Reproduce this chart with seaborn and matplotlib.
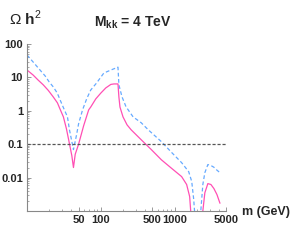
import numpy as np
import pandas as pd
import seaborn as sns
import matplotlib
matplotlib.use('Agg')
import matplotlib.pyplot as plt
from matplotlib.ticker import FixedLocator, NullFormatter

sns.set_style('ticks')
plt.rcParams['font.family'] = ['Liberation Sans Narrow', 'Liberation Sans', 'DejaVu Sans']
plt.rcParams['mathtext.fontset'] = 'custom'
plt.rcParams['mathtext.rm'] = 'Liberation Sans'
plt.rcParams['mathtext.bf'] = 'Liberation Sans:bold'

# solid pink curve
m_pink = [10, 12.1, 14.1, 16.6, 19.4, 22.7, 25.8, 28.3, 31.1, 34.2, 37.7, 40.5, 42.6,
          45, 50, 58.5, 68.5, 73, 85.5, 100, 117, 137, 151, 171,
          176, 182, 200, 227, 258, 353, 484, 664, 910, 1247, 1459, 1603, 1656, 1700,
          2380, 2420, 2576, 2830, 3112, 3416, 3758, 4130]
omega_pink = [16.7, 11.8, 8.4, 6.0, 4.1, 2.6, 1.74, 1.07, 0.66, 0.29, 0.1, 0.045, 0.02,
              0.05, 0.1, 0.356, 1.07, 1.3, 2.28, 3.4, 4.87, 6.2, 6.4, 6.4,
              2.6, 1.3, 0.66, 0.38, 0.27, 0.136, 0.069, 0.034, 0.019, 0.0107, 0.0062, 0.0027, 0.001, 0.0003,
              0.0003, 0.001, 0.0035, 0.0066, 0.0062, 0.0047, 0.0031, 0.0017]

# dashed blue curve
m_blue = [10, 12.1, 15, 17.6, 20, 22.7, 25.7, 30, 35.3, 37.6, 42.6, 46.9, 50, 56.6,
          64.3, 73, 88, 110, 137, 171,
          176, 194, 220, 274, 353, 440, 664, 910, 1247, 1556, 1711, 1820, 1880, 1920,
          2230, 2270, 2420, 2576, 2830, 3112, 3416, 3758, 4130]
omega_blue = [47, 29, 16.7, 11.1, 7.3, 5.2, 3.4, 1.5, 0.66, 0.27, 0.069, 0.19, 0.41, 1.07,
              2.28, 4.2, 6.9, 13.6, 16.7, 20.4,
              6.0, 2.62, 1.32, 0.66, 0.44, 0.27, 0.119, 0.057, 0.028, 0.015, 0.0076, 0.0022, 0.0008, 0.0003,
              0.0003, 0.001, 0.0062, 0.014, 0.0245, 0.023, 0.0204, 0.0167, 0.014]

x_ticks = [50, 100, 500, 1000, 5000]
y_ticks = [100, 10, 1, 0.1, 0.01]
y_tick_labels = ['100', '10', '1', '0.1', '0.01']
omega_ref = 0.1

pink = '#ff4fb4'
blue = '#66aaff'

fig = plt.figure(figsize=(2.94, 2.45), dpi=100)
ax = fig.add_axes([0.092, 0.139, 0.677, 0.681])

pink_df = pd.DataFrame({'m': m_pink, 'omega': omega_pink})
blue_df = pd.DataFrame({'m': m_blue, 'omega': omega_blue})

sns.lineplot(data=blue_df, x='m', y='omega', ax=ax, sort=False, estimator=None,
             color=blue, lw=0.9, linestyle=(0, (3, 2)))
sns.lineplot(data=pink_df, x='m', y='omega', ax=ax, sort=False, estimator=None,
             color=pink, lw=0.9)
ax.axhline(omega_ref, color='#555555', lw=0.9, ls=(0, (2.5, 1.5)))

ax.set(xscale='log', yscale='log', xlim=(10, 5000), ylim=(0.001, 100), xlabel='', ylabel='')
sns.despine(ax=ax)
for s in ['left', 'bottom']:
    ax.spines[s].set_color('#888888')
    ax.spines[s].set_linewidth(0.8)

ax.xaxis.set_major_locator(FixedLocator(x_ticks))
ax.set_xticklabels([str(t) for t in x_ticks])
ax.yaxis.set_major_locator(FixedLocator(y_ticks))
ax.set_yticklabels(y_tick_labels)
ax.xaxis.set_minor_formatter(NullFormatter())
ax.yaxis.set_minor_formatter(NullFormatter())
ax.tick_params(which='major', direction='in', length=3, width=0.6, color='#888888',
               labelsize=8, pad=3)
ax.tick_params(which='minor', direction='in', length=1.5, width=0.5, color='#888888')
for lab in ax.get_xticklabels() + ax.get_yticklabels():
    lab.set_fontweight('bold')

fig.text(0.03, 0.925, r'$\Omega$ h$^2$', fontsize=11, fontweight='bold', va='center',
         family=['Liberation Sans', 'DejaVu Sans'])
ax.text(0.53, 1.13, r'M$_{\mathbf{kk}}$ = 4 TeV', transform=ax.transAxes, ha='center',
        va='center', fontsize=10, fontweight='bold')
fig.text(0.823, 0.135, 'm (GeV)', fontsize=9, fontweight='bold', va='center')

fig.savefig('out.png', dpi=100)
